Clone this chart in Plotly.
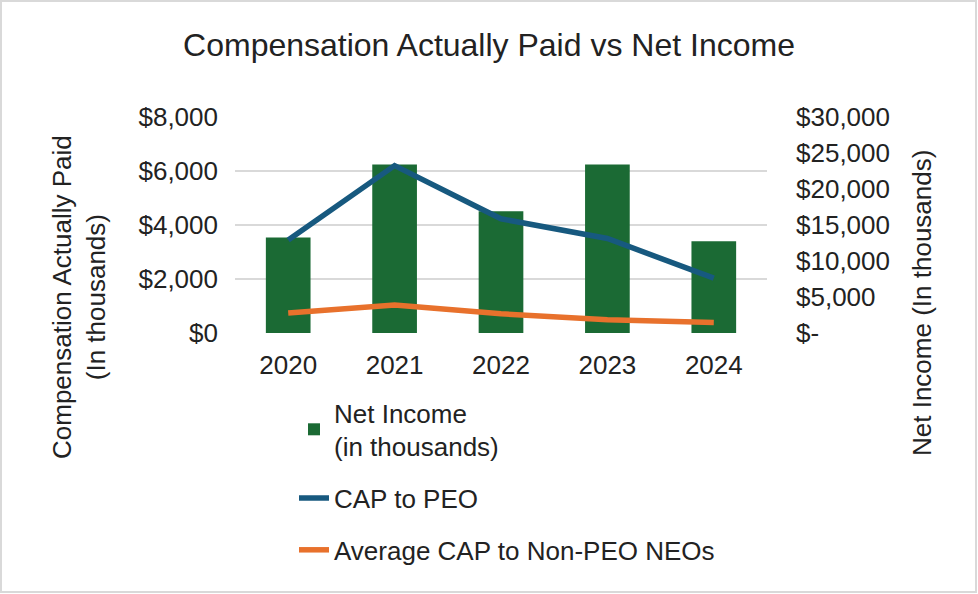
import plotly.graph_objects as go

years = ["2020", "2021", "2022", "2023", "2024"]
net_income = [13250, 23400, 16900, 23400, 12750]
cap_peo = [3440, 6200, 4230, 3500, 2030]
cap_non_peo = [740, 1040, 710, 490, 390]

left_ticks = [0, 2000, 4000, 6000, 8000]
left_ticktext = ["$0", "$2,000", "$4,000", "$6,000", "$8,000"]
right_ticks = [0, 5000, 10000, 15000, 20000, 25000, 30000]
right_ticktext = ["$-", "$5,000", "$10,000", "$15,000", "$20,000", "$25,000", "$30,000"]

GREEN = "#1b6a34"
BLUE = "#17597f"
ORANGE = "#e8712c"
TXT = "#222222"
FONT = "Liberation Sans, Arial, sans-serif"
FS = 26

fig = go.Figure()
# bars on the primary (right-side) axis so that the lines overlay them
fig.add_trace(go.Bar(
    x=years, y=net_income, name="Net Income<br>(in thousands)",
    marker=dict(color=GREEN, line=dict(width=0)), yaxis="y",
    legendgroup="a",
))
fig.add_trace(go.Scatter(
    x=years, y=cap_peo, name="CAP to PEO", mode="lines", yaxis="y2",
    line=dict(color=BLUE, width=5.5), legendgroup="b",
))
fig.add_trace(go.Scatter(
    x=years, y=cap_non_peo, name="Average CAP to Non-PEO NEOs", mode="lines", yaxis="y2",
    line=dict(color=ORANGE, width=5.5), legendgroup="c",
))

W, H = 978, 594
ml, mr, mt, mb = 235, 211, 117, 261
pw, ph = W - ml - mr, H - mt - mb

fig.update_layout(
    width=W, height=H,
    margin=dict(l=ml, r=mr, t=mt, b=mb, autoexpand=False),
    paper_bgcolor="white", plot_bgcolor="white",
    font=dict(family=FONT, size=FS, color=TXT),
    title=dict(text="Compensation Actually Paid vs Net Income",
               x=0.5, xanchor="center", y=1 - 45 / H, yanchor="middle",
               font=dict(size=32, color=TXT)),
    bargap=0.58,
    xaxis=dict(showgrid=False, showline=False, zeroline=False,
               ticklabelstandoff=14, tickfont=dict(size=FS)),
    yaxis=dict(range=[0, 30000], tickvals=right_ticks, ticktext=right_ticktext,
               side="right", showgrid=False, zeroline=False,
               showline=False, ticklabelstandoff=28, tickfont=dict(size=FS)),
    yaxis2=dict(range=[0, 8000], tickvals=left_ticks, ticktext=left_ticktext,
                overlaying="y", side="left",
                showgrid=True, gridcolor="#d9d9d9", gridwidth=1.5,
                zeroline=False, showline=False, ticklabelstandoff=16,
                tickfont=dict(size=FS)),
    legend=dict(x=(294 - ml) / pw, xanchor="left", y=(mt + ph - 389) / ph, yanchor="top",
                traceorder="grouped", tracegroupgap=15,
                font=dict(size=FS, color=TXT), bgcolor="rgba(0,0,0,0)",
                itemwidth=30),
    showlegend=True,
)

fig.add_annotation(text="Compensation Actually Paid<br>(In thousands)",
                   xref="paper", yref="paper", x=(79 - ml) / pw, y=(mt + ph - 297) / ph,
                   xanchor="center", yanchor="middle", textangle=-90, showarrow=False,
                   font=dict(size=FS, color=TXT))
fig.add_annotation(text="Net Income (In thousands)",
                   xref="paper", yref="paper", x=(922 - ml) / pw, y=(mt + ph - 303) / ph,
                   xanchor="center", yanchor="middle", textangle=-90, showarrow=False,
                   font=dict(size=FS, color=TXT))

fig.add_shape(type="rect", xref="paper", yref="paper",
              x0=(1 - ml) / pw, x1=(W - 2 - ml) / pw,
              y0=(mt + ph - (H - 2)) / ph, y1=(mt + ph - 1) / ph,
              line=dict(color="#d9d9d9", width=2), fillcolor="rgba(0,0,0,0)", layer="below")

fig.write_html("out.html", config={"displayModeBar": False},
               post_script="document.body.style.margin='0';")
